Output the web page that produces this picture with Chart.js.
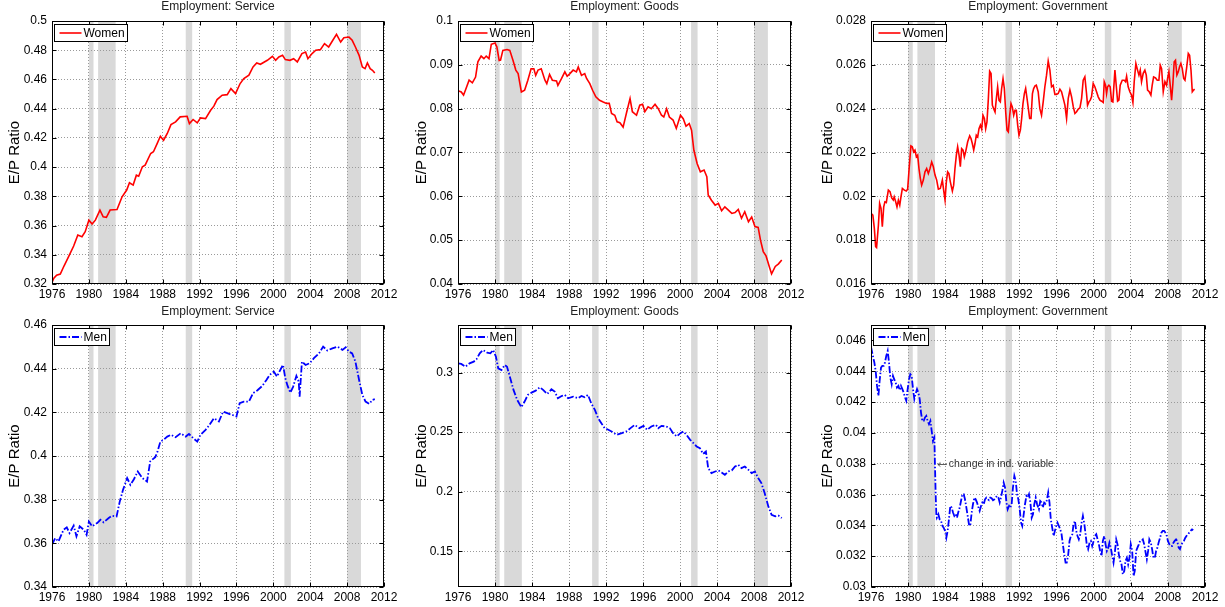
<!DOCTYPE html>
<html><head><meta charset="utf-8">
<script src="https://cdn.jsdelivr.net/npm/chart.js@4.4.1/dist/chart.umd.min.js"></script>
<style>html,body{margin:0;padding:0;background:#fff;width:1225px;height:607px;overflow:hidden;position:relative}canvas{position:absolute}</style>
</head><body>
<script>
// ---------------- DATA ----------------
const xTickYears = [1976,1980,1984,1988,1992,1996,2000,2004,2008,2012];
const recessions = [[1980.0,1980.5],[1981.0,1982.9],[1990.5,1991.2],[2001.2,2001.9],[2008.0,2009.5]];

const yTicksSvcWomen = [0.32,0.34,0.36,0.38,0.4,0.42,0.44,0.46,0.48,0.5];
const yTicksGoodsWomen = [0.04,0.05,0.06,0.07,0.08,0.09,0.1];
const yTicksGovWomen = [0.016,0.018,0.02,0.022,0.024,0.026,0.028];
const yTicksSvcMen = [0.34,0.36,0.38,0.4,0.42,0.44,0.46];
const yTicksGoodsMen = [0.15,0.2,0.25,0.3];
const yTicksGovMen = [0.03,0.032,0.034,0.036,0.038,0.04,0.042,0.044,0.046];

const svcWomenYear = [1976.0,1976.2,1976.5,1976.9,1977.3,1977.8,1978.35,1978.8,1979.25,1979.6,1980.0,1980.35,1980.7,1981.2,1981.55,1981.9,1982.3,1983.05,1983.6,1984.1,1984.4,1984.8,1985.15,1985.4,1985.8,1986.1,1986.7,1987.0,1987.4,1987.75,1988.1,1988.5,1988.9,1989.4,1989.9,1990.65,1990.9,1991.3,1991.75,1992.1,1992.65,1993.2,1993.55,1993.9,1994.45,1995.0,1995.4,1995.9,1996.4,1996.8,1997.35,1997.8,1998.2,1998.6,1999.35,1999.9,2000.25,2000.6,2001.0,2001.3,2001.8,2002.2,2002.6,2003.1,2003.5,2003.75,2004.2,2004.6,2005.1,2005.55,2006.0,2006.4,2006.85,2007.3,2007.65,2008.2,2008.55,2008.9,2009.3,2009.65,2009.95,2010.2,2010.5,2010.75,2011.0];
const svcWomenVal = [0.321,0.3239,0.326,0.3268,0.3323,0.3387,0.346,0.3535,0.3524,0.3558,0.3637,0.361,0.3637,0.3706,0.366,0.3656,0.3706,0.371,0.3797,0.3843,0.3893,0.3877,0.3945,0.3938,0.4002,0.4013,0.4093,0.4105,0.4161,0.4211,0.4184,0.423,0.4291,0.431,0.4344,0.4348,0.4298,0.4326,0.4303,0.4337,0.4332,0.4389,0.4417,0.4462,0.4492,0.4496,0.4537,0.4503,0.4572,0.4606,0.4629,0.4686,0.4713,0.4704,0.4731,0.4758,0.4731,0.4754,0.4765,0.4736,0.4731,0.4742,0.472,0.4777,0.4788,0.4742,0.4777,0.48,0.4804,0.4845,0.4822,0.4863,0.4909,0.4856,0.4886,0.489,0.4868,0.4822,0.4765,0.4686,0.4674,0.4713,0.4674,0.4663,0.4644];

const goodsWomenYear = [1976.0,1976.35,1976.6,1976.8,1977.2,1977.55,1977.9,1978.15,1978.5,1978.8,1979.05,1979.35,1979.6,1980.0,1980.2,1980.45,1980.6,1980.85,1981.3,1981.6,1981.95,1982.25,1982.5,1982.85,1983.2,1983.55,1983.9,1984.2,1984.4,1984.65,1985.0,1985.4,1985.6,1985.9,1986.2,1986.65,1986.8,1987.2,1987.55,1987.8,1988.1,1988.45,1988.8,1989.0,1989.35,1989.7,1989.9,1990.25,1990.55,1990.9,1991.3,1991.7,1992.05,1992.35,1992.6,1992.95,1993.2,1993.5,1993.85,1994.2,1994.6,1994.85,1995.3,1995.65,1995.95,1996.2,1996.55,1996.9,1997.3,1997.65,1998.0,1998.25,1998.55,1998.85,1999.25,1999.6,2000.05,2000.35,2000.65,2001.0,2001.25,2001.5,2001.85,2002.2,2002.6,2002.9,2003.05,2003.4,2003.8,2004.15,2004.5,2004.85,2005.2,2005.6,2005.95,2006.3,2006.65,2007.0,2007.4,2007.75,2008.1,2008.45,2008.7,2009.0,2009.3,2009.65,2009.9,2010.3,2010.65,2011.0];
const goodsWomenVal = [0.0841,0.0838,0.0831,0.0842,0.0865,0.0859,0.0872,0.0907,0.092,0.0914,0.092,0.0914,0.0947,0.095,0.0941,0.091,0.0911,0.0933,0.0935,0.0933,0.091,0.0888,0.088,0.0838,0.0842,0.0865,0.0891,0.0891,0.0876,0.0888,0.0891,0.0865,0.0857,0.0878,0.0865,0.0863,0.0853,0.0869,0.0884,0.0874,0.088,0.0888,0.0884,0.0895,0.0876,0.088,0.0869,0.0857,0.0842,0.0827,0.0819,0.0815,0.0812,0.0812,0.0789,0.0785,0.077,0.0768,0.0758,0.0789,0.0823,0.0793,0.0785,0.0808,0.081,0.0793,0.0804,0.08,0.081,0.08,0.0785,0.0781,0.08,0.0781,0.0774,0.0755,0.0785,0.0777,0.076,0.0766,0.0751,0.0705,0.0675,0.0656,0.066,0.0645,0.0603,0.0591,0.058,0.0584,0.0567,0.0576,0.0569,0.0561,0.0563,0.057,0.055,0.0565,0.0542,0.0553,0.0531,0.0529,0.05,0.0474,0.0464,0.044,0.0423,0.044,0.0446,0.0455];

const govWomenYear = [1976.0,1976.2,1976.36,1976.5,1976.6,1976.8,1976.93,1977.08,1977.22,1977.37,1977.5,1977.65,1977.87,1978.05,1978.23,1978.4,1978.5,1978.66,1978.8,1978.95,1979.1,1979.23,1979.38,1979.6,1979.8,1979.95,1980.1,1980.3,1980.45,1980.6,1980.74,1980.89,1981.03,1981.17,1981.32,1981.46,1981.64,1981.82,1982.0,1982.18,1982.36,1982.54,1982.72,1982.9,1983.08,1983.26,1983.47,1983.69,1983.83,1983.98,1984.12,1984.26,1984.4,1984.55,1984.77,1984.91,1985.05,1985.2,1985.34,1985.49,1985.63,1985.77,1985.92,1986.06,1986.2,1986.42,1986.64,1986.78,1986.92,1987.07,1987.21,1987.35,1987.5,1987.64,1987.79,1987.93,1988.07,1988.22,1988.36,1988.5,1988.65,1988.79,1988.94,1989.08,1989.22,1989.37,1989.51,1989.65,1989.8,1989.94,1990.08,1990.23,1990.37,1990.52,1990.66,1990.8,1990.95,1991.09,1991.23,1991.38,1991.52,1991.66,1991.81,1991.95,1992.1,1992.24,1992.38,1992.53,1992.67,1992.82,1992.96,1993.1,1993.25,1993.4,1993.53,1993.68,1993.82,1994.02,1994.2,1994.38,1994.56,1994.74,1994.92,1995.1,1995.28,1995.46,1995.64,1995.82,1996.0,1996.18,1996.36,1996.54,1996.72,1996.9,1997.08,1997.26,1997.44,1997.62,1997.8,1997.98,1998.16,1998.34,1998.52,1998.7,1998.87,1999.05,1999.23,1999.34,1999.49,1999.63,1999.77,1999.95,2000.13,2000.31,2000.49,2000.67,2000.85,2001.03,2001.14,2001.28,2001.39,2001.5,2001.64,2001.78,2001.93,2002.07,2002.29,2002.43,2002.58,2002.72,2002.86,2003.08,2003.29,2003.44,2003.55,2003.72,2003.9,2004.08,2004.23,2004.37,2004.55,2004.73,2004.88,2005.02,2005.16,2005.34,2005.52,2005.67,2005.81,2005.99,2006.17,2006.31,2006.46,2006.67,2006.85,2007.03,2007.18,2007.32,2007.5,2007.68,2007.86,2007.97,2008.11,2008.25,2008.4,2008.54,2008.68,2008.82,2008.97,2009.12,2009.26,2009.4,2009.55,2009.7,2009.84,2010.01,2010.2,2010.34,2010.49,2010.63,2010.77,2010.88];
const govWomenVal = [0.01922,0.01914,0.01854,0.0177,0.01766,0.01869,0.01968,0.01945,0.01861,0.01952,0.01975,0.01972,0.02028,0.02021,0.01993,0.01983,0.01998,0.01975,0.01952,0.01983,0.0196,0.01998,0.02036,0.02028,0.02024,0.02033,0.0212,0.0223,0.02226,0.02203,0.02211,0.0218,0.02188,0.02127,0.02081,0.02051,0.02074,0.02112,0.02127,0.02104,0.02127,0.02157,0.02135,0.02097,0.02074,0.02033,0.02036,0.02074,0.02028,0.01983,0.02066,0.02112,0.02104,0.02066,0.02024,0.02051,0.02127,0.02188,0.02226,0.02188,0.02135,0.02218,0.02211,0.0218,0.02203,0.02249,0.02276,0.02264,0.02241,0.02211,0.02241,0.02279,0.02271,0.02309,0.02325,0.02306,0.0237,0.02355,0.02309,0.0234,0.02446,0.02571,0.0256,0.02416,0.024,0.02385,0.02446,0.02499,0.02438,0.02431,0.02492,0.02537,0.02492,0.02385,0.02302,0.02294,0.0237,0.02423,0.02408,0.0237,0.02393,0.02393,0.02325,0.02279,0.02302,0.02355,0.02423,0.02469,0.02492,0.02446,0.024,0.02355,0.02355,0.02469,0.02492,0.02504,0.02507,0.02477,0.024,0.0237,0.02431,0.025,0.02553,0.02617,0.02576,0.025,0.02507,0.02465,0.02465,0.02469,0.02489,0.02477,0.02447,0.02416,0.02355,0.02447,0.02485,0.02454,0.02409,0.02378,0.02386,0.02398,0.02404,0.02447,0.0253,0.02545,0.02469,0.02416,0.02431,0.02439,0.02454,0.02515,0.025,0.02477,0.02454,0.02439,0.02434,0.02428,0.02523,0.02507,0.02469,0.025,0.02507,0.025,0.02434,0.02431,0.02576,0.02507,0.02434,0.02439,0.02507,0.0253,0.0253,0.02523,0.02548,0.025,0.02477,0.02462,0.02428,0.02523,0.02606,0.02576,0.02553,0.02576,0.02523,0.02561,0.02576,0.02553,0.02485,0.02477,0.02462,0.02507,0.02545,0.0254,0.0253,0.0253,0.02598,0.02583,0.02477,0.02523,0.02507,0.02538,0.02568,0.02507,0.02439,0.02515,0.02614,0.02621,0.02553,0.02568,0.02591,0.02606,0.02583,0.02538,0.0253,0.02583,0.02652,0.02644,0.02576,0.02477,0.02485,0.02489];

const svcMenYear = [1976.0,1976.35,1976.7,1977.25,1977.6,1977.9,1978.35,1978.65,1979.0,1979.45,1979.75,1980.0,1980.35,1980.9,1981.25,1981.6,1982.15,1982.5,1983.0,1983.35,1983.7,1984.15,1984.5,1984.85,1985.3,1985.8,1986.3,1986.65,1987.2,1987.45,1987.75,1988.1,1988.5,1988.9,1989.4,1989.95,1990.5,1990.85,1991.3,1991.75,1992.1,1992.65,1993.0,1993.55,1994.1,1994.55,1995.0,1995.55,1996.0,1996.35,1996.8,1997.35,1997.8,1998.25,1998.8,1999.25,1999.6,2000.05,2000.4,2000.85,2001.05,2001.3,2001.55,2001.85,2002.15,2002.5,2002.75,2002.85,2003.1,2003.5,2003.95,2004.4,2004.95,2005.4,2005.85,2006.4,2006.95,2007.5,2007.85,2008.2,2008.55,2008.9,2009.3,2009.65,2010.0,2010.4,2010.75,2011.0];
const svcMenVal = [0.3594,0.3624,0.3609,0.3662,0.3673,0.3647,0.3681,0.3632,0.3678,0.3662,0.3639,0.37,0.3678,0.3693,0.3708,0.3696,0.3716,0.3726,0.3723,0.3792,0.3845,0.3899,0.3868,0.3891,0.3929,0.3899,0.3883,0.3975,0.3995,0.4021,0.4066,0.4074,0.4089,0.4097,0.4086,0.4104,0.4089,0.4101,0.4082,0.4066,0.4097,0.412,0.4138,0.4173,0.4158,0.4203,0.4196,0.4188,0.4181,0.4242,0.4249,0.4249,0.4288,0.43,0.4321,0.4348,0.4371,0.4387,0.4364,0.4402,0.4417,0.4356,0.4321,0.429,0.4318,0.4367,0.4341,0.4272,0.4432,0.4417,0.4425,0.4448,0.447,0.4501,0.4483,0.4493,0.4501,0.4486,0.4498,0.4478,0.447,0.4432,0.4348,0.428,0.4249,0.4239,0.4257,0.426];

const goodsMenYear = [1976.0,1976.35,1976.8,1977.25,1977.7,1978.0,1978.35,1978.7,1979.15,1979.5,1979.8,1980.1,1980.35,1980.7,1981.05,1981.3,1981.65,1982.0,1982.4,1982.85,1983.2,1983.55,1983.95,1984.4,1984.85,1985.2,1985.65,1986.1,1986.45,1986.8,1987.2,1987.55,1987.9,1988.45,1989.0,1989.35,1989.7,1990.05,1990.4,1990.8,1991.15,1991.5,1991.85,1992.25,1992.6,1993.15,1993.7,1994.2,1994.65,1995.1,1995.6,1996.05,1996.45,1996.9,1997.4,1997.65,1998.0,1998.5,1998.9,1999.25,1999.65,2000.05,2000.35,2000.7,2001.1,2001.45,2001.8,2002.15,2002.5,2002.8,2003.05,2003.4,2003.8,2004.15,2004.5,2004.85,2005.2,2005.6,2005.95,2006.3,2006.65,2007.0,2007.4,2007.75,2008.1,2008.45,2008.8,2009.15,2009.55,2009.9,2010.3,2010.65,2011.0];
const goodsMenVal = [0.3078,0.3073,0.305,0.3078,0.3092,0.3112,0.3162,0.319,0.3168,0.3162,0.319,0.3134,0.3036,0.3022,0.3064,0.305,0.2953,0.2855,0.2771,0.271,0.2757,0.2813,0.2832,0.2849,0.2877,0.2855,0.2821,0.286,0.2841,0.2785,0.2804,0.2813,0.2785,0.2799,0.2785,0.2804,0.2793,0.2813,0.2743,0.2687,0.2617,0.2575,0.2534,0.252,0.2506,0.2478,0.2492,0.2506,0.2534,0.2561,0.2534,0.2553,0.252,0.2548,0.2561,0.2534,0.2553,0.2548,0.2534,0.2492,0.2464,0.2492,0.2506,0.2478,0.2436,0.2408,0.238,0.2366,0.2318,0.2338,0.2198,0.2156,0.217,0.2179,0.2162,0.2142,0.217,0.2179,0.2212,0.2226,0.2198,0.2212,0.2184,0.2156,0.217,0.2115,0.2073,0.1989,0.1877,0.1807,0.1793,0.1799,0.1779];

const govMenYear = [1976.0,1976.2,1976.36,1976.5,1976.65,1976.8,1976.93,1977.08,1977.22,1977.37,1977.5,1977.65,1977.8,1977.94,1978.08,1978.23,1978.37,1978.5,1978.66,1978.8,1978.95,1979.1,1979.23,1979.38,1979.52,1979.67,1979.8,1979.95,1980.1,1980.24,1980.38,1980.53,1980.67,1980.8,1980.96,1981.1,1981.25,1981.39,1981.53,1981.68,1981.82,1981.96,1982.1,1982.25,1982.4,1982.54,1982.68,1982.83,1982.9,1982.97,1983.04,1983.1,1983.26,1983.4,1983.55,1983.7,1983.83,1983.98,1984.12,1984.26,1984.4,1984.55,1984.7,1984.84,1984.98,1985.12,1985.27,1985.4,1985.56,1985.7,1985.85,1985.99,1986.13,1986.28,1986.42,1986.56,1986.7,1986.85,1986.99,1987.14,1987.28,1987.43,1987.57,1987.71,1987.86,1988.0,1988.15,1988.29,1988.43,1988.58,1988.72,1988.86,1989.0,1989.15,1989.3,1989.44,1989.58,1989.73,1989.87,1990.0,1990.15,1990.3,1990.45,1990.6,1990.73,1990.88,1991.0,1991.16,1991.3,1991.45,1991.6,1991.74,1991.88,1992.03,1992.17,1992.3,1992.46,1992.6,1992.75,1992.9,1993.03,1993.18,1993.32,1993.46,1993.6,1993.75,1993.9,1994.1,1994.24,1994.38,1994.52,1994.67,1994.8,1994.95,1995.1,1995.24,1995.38,1995.53,1995.68,1995.82,1995.96,1996.1,1996.25,1996.4,1996.54,1996.68,1996.83,1996.97,1997.1,1997.26,1997.4,1997.54,1997.7,1997.83,1997.98,1998.12,1998.26,1998.4,1998.55,1998.7,1998.84,1999.0,1999.13,1999.27,1999.4,1999.56,1999.7,1999.84,2000.0,2000.13,2000.28,2000.42,2000.56,2000.7,2000.85,2000.99,2001.14,2001.28,2001.42,2001.57,2001.7,2001.85,2002.0,2002.14,2002.28,2002.43,2002.57,2002.71,2002.86,2003.0,2003.14,2003.3,2003.43,2003.58,2003.72,2003.86,2004.0,2004.15,2004.3,2004.43,2004.58,2004.72,2004.87,2005.0,2005.16,2005.3,2005.44,2005.6,2005.73,2005.87,2006.0,2006.16,2006.3,2006.44,2006.6,2006.73,2006.87,2007.0,2007.16,2007.3,2007.44,2007.6,2007.73,2007.88,2008.0,2008.16,2008.3,2008.45,2008.6,2008.73,2008.88,2009.0,2009.16,2009.3,2009.45,2009.6,2009.73,2009.88,2010.0,2010.16,2010.3,2010.44,2010.6,2010.73];
const govMenVal = [0.04558,0.045,0.04457,0.04403,0.04305,0.0424,0.04338,0.04424,0.04435,0.04435,0.04457,0.045,0.04532,0.04457,0.04359,0.04316,0.0437,0.04348,0.04327,0.04294,0.04305,0.04277,0.04305,0.04284,0.04262,0.04229,0.04208,0.04284,0.04348,0.04381,0.0437,0.04284,0.04219,0.04251,0.04284,0.04262,0.04219,0.04132,0.04078,0.04078,0.041,0.0411,0.04078,0.04056,0.04078,0.04013,0.03948,0.0397,0.03775,0.03602,0.03472,0.0345,0.03472,0.03439,0.03429,0.03396,0.03385,0.03364,0.0332,0.03364,0.03439,0.03526,0.03515,0.03483,0.03461,0.03472,0.0345,0.03483,0.03515,0.03558,0.03602,0.03602,0.03569,0.03515,0.03461,0.03407,0.03396,0.03483,0.03537,0.0358,0.03569,0.03548,0.03519,0.03494,0.03526,0.03548,0.03537,0.03569,0.0358,0.03569,0.03563,0.0358,0.03576,0.03563,0.03569,0.0358,0.03591,0.0358,0.03548,0.0358,0.03623,0.03677,0.03645,0.03548,0.03504,0.03526,0.03515,0.03537,0.03645,0.03721,0.03688,0.03602,0.03569,0.03504,0.03418,0.03396,0.03472,0.03537,0.03591,0.0358,0.03602,0.03548,0.0345,0.03472,0.03537,0.0358,0.03537,0.03504,0.03558,0.03548,0.03515,0.03548,0.03541,0.03563,0.03613,0.03548,0.03439,0.03385,0.03331,0.03364,0.03396,0.03418,0.03396,0.03374,0.03342,0.03277,0.03212,0.03158,0.03158,0.03212,0.03299,0.03331,0.03342,0.03407,0.03429,0.03364,0.03331,0.03309,0.03342,0.03418,0.03461,0.03407,0.03342,0.03266,0.03245,0.03288,0.03299,0.03266,0.03299,0.03331,0.03342,0.03309,0.03277,0.03234,0.03201,0.03299,0.03331,0.03277,0.03234,0.03255,0.03288,0.03255,0.03201,0.03158,0.03223,0.03309,0.03277,0.03212,0.03169,0.03147,0.03082,0.03104,0.03169,0.0319,0.03147,0.0319,0.03277,0.03234,0.03071,0.03104,0.03234,0.03255,0.03277,0.03299,0.03299,0.03309,0.03277,0.03223,0.0318,0.03234,0.03309,0.03288,0.03245,0.0319,0.0319,0.03234,0.03255,0.03288,0.0332,0.03353,0.03364,0.03364,0.03353,0.03331,0.03299,0.03277,0.03266,0.03266,0.03288,0.03299,0.03309,0.03299,0.03255,0.03245,0.03277,0.03288,0.03299,0.0332,0.03331,0.03342,0.03353,0.03364,0.03374,0.03368];

// ---------------- DRAWING ----------------
const FONT = '"Liberation Sans", Arial, Helvetica, sans-serif';
Chart.defaults.font.family = FONT;
Chart.defaults.color = '#000';

const RED = '#ff0000', BLUE = '#0000ff';
const DASHDOT = [7, 2, 1.5, 2];

const panels = [
  {title:'Employment: Service', label:'Women', xs:svcWomenYear, ys:svcWomenVal, color:RED, dash:[], lw:1.6, ymin:0.32, ymax:0.5, yticks:yTicksSvcWomen,
   x0:0, y0:0, w:405, h:300, pl:52, pr:384, pt:21, pb:284, ylx:14.5, titleY:7, legW:73},
  {title:'Employment: Goods', label:'Women', xs:goodsWomenYear, ys:goodsWomenVal, color:RED, dash:[], lw:1.6, ymin:0.04, ymax:0.1, yticks:yTicksGoodsWomen,
   x0:405, y0:0, w:405, h:300, pl:458, pr:791, pt:21, pb:284, ylx:421.5, titleY:7, legW:73},
  {title:'Employment: Government', label:'Women', xs:govWomenYear, ys:govWomenVal, color:RED, dash:[], lw:1.6, ymin:0.016, ymax:0.028, yticks:yTicksGovWomen,
   x0:810, y0:0, w:415, h:300, pl:871, pr:1205, pt:21, pb:284, ylx:828, titleY:7, legW:73},
  {title:'Employment: Service', label:'Men', xs:svcMenYear, ys:svcMenVal, color:BLUE, dash:DASHDOT, lw:1.8, ymin:0.34, ymax:0.46, yticks:yTicksSvcMen,
   x0:0, y0:300, w:405, h:307, pl:52, pr:384, pt:325, pb:587, ylx:14.5, titleY:312, legW:55},
  {title:'Employment: Goods', label:'Men', xs:goodsMenYear, ys:goodsMenVal, color:BLUE, dash:DASHDOT, lw:1.8, ymin:0.12, ymax:0.34, yticks:yTicksGoodsMen,
   x0:405, y0:300, w:405, h:307, pl:458, pr:791, pt:325, pb:587, ylx:421.5, titleY:312, legW:55},
  {title:'Employment: Government', label:'Men', xs:govMenYear, ys:govMenVal, color:BLUE, dash:DASHDOT, lw:1.8, ymin:0.03, ymax:0.047, yticks:yTicksGovMen,
   x0:810, y0:300, w:415, h:307, pl:871, pr:1205, pt:325, pb:587, ylx:828, titleY:312, legW:55,
   note:{x:1983.1, y:0.038, text:'change in ind. variable'}}
];

function fmt(v){ return String(parseFloat(Number(v).toFixed(4))); }

function decor(p){
  return {
    id:'decor',
    beforeDraw(chart){
      const {ctx, chartArea:a, scales:{x}} = chart;
      ctx.save();
      ctx.fillStyle = '#d9d9d9';
      recessions.forEach(([s,e])=>{
        const x1 = x.getPixelForValue(s), x2 = x.getPixelForValue(e);
        ctx.fillRect(x1, a.top, x2-x1, a.bottom-a.top);
      });
      ctx.restore();
    },
    afterDraw(chart){
      const {ctx, chartArea:a, scales:{x,y}} = chart;
      ctx.save();
      ctx.strokeStyle = '#000'; ctx.lineWidth = 1; ctx.setLineDash([]);
      const L = Math.round(a.left)+0.5, T = Math.round(a.top)+0.5, R = Math.round(a.right)-0.5, B = Math.round(a.bottom)-0.5;
      ctx.strokeRect(L, T, R-L, B-T);
      ctx.beginPath();
      p.yticks.forEach(v=>{
        const yy = Math.round(y.getPixelForValue(v))+0.5;
        ctx.moveTo(L, yy); ctx.lineTo(L+4, yy);
        ctx.moveTo(R, yy); ctx.lineTo(R-4, yy);
      });
      xTickYears.forEach(v=>{
        const xx = Math.round(x.getPixelForValue(v))+0.5;
        ctx.moveTo(xx, B); ctx.lineTo(xx, B-4);
        ctx.moveTo(xx, T); ctx.lineTo(xx, T+4);
      });
      ctx.stroke();
      ctx.fillStyle = '#222'; ctx.font = '12px '+FONT; ctx.textAlign = 'center'; ctx.textBaseline = 'middle';
      ctx.fillText(p.title, (a.left+a.right)/2, p.titleY - p.y0);
      ctx.save();
      ctx.translate(p.ylx - p.x0, (a.top+a.bottom)/2);
      ctx.rotate(-Math.PI/2);
      ctx.fillStyle = '#000'; ctx.font = '15px '+FONT; ctx.textAlign='center'; ctx.textBaseline='middle';
      ctx.fillText('E/P Ratio', 0, 0);
      ctx.restore();
      const lx = Math.round(a.left)+2.5, ly = Math.round(a.top)+3.5, lh = 17;
      ctx.fillStyle = '#fff'; ctx.fillRect(lx, ly, p.legW, lh);
      ctx.strokeStyle = '#000'; ctx.lineWidth = 1; ctx.strokeRect(lx, ly, p.legW, lh);
      ctx.strokeStyle = p.color; ctx.lineWidth = p.lw; ctx.setLineDash(p.dash);
      ctx.beginPath(); ctx.moveTo(lx+5, ly+lh/2); ctx.lineTo(lx+27, ly+lh/2); ctx.stroke();
      ctx.setLineDash([]);
      ctx.fillStyle = '#000'; ctx.font = '12px '+FONT; ctx.textAlign='left'; ctx.textBaseline='middle';
      ctx.fillText(p.label, lx+29, ly+lh/2+0.5);
      if (p.note){
        const ax = x.getPixelForValue(p.note.x), ay = Math.round(y.getPixelForValue(p.note.y))+0.5;
        ctx.strokeStyle = '#333'; ctx.lineWidth = 0.8;
        ctx.beginPath();
        ctx.moveTo(ax+1, ay); ctx.lineTo(ax+10, ay);
        ctx.moveTo(ax+1, ay); ctx.lineTo(ax+3.5, ay-2);
        ctx.moveTo(ax+1, ay); ctx.lineTo(ax+3.5, ay+2);
        ctx.stroke();
        ctx.fillStyle = '#333'; ctx.font = '10.5px '+FONT; ctx.textAlign='left'; ctx.textBaseline='middle';
        ctx.fillText(p.note.text, ax+12, ay);
      }
      ctx.restore();
    }
  };
}

panels.forEach((p)=>{
  const c = document.createElement('canvas');
  c.width = p.w; c.height = p.h;
  c.style.left = p.x0+'px'; c.style.top = p.y0+'px';
  c.style.width = p.w+'px'; c.style.height = p.h+'px';
  document.body.appendChild(c);
  const pts = p.xs.map((xv,i)=>({x:xv, y:p.ys[i]}));
  new Chart(c, {
    type:'line',
    data:{datasets:[{label:p.label, data:pts, borderColor:p.color, borderWidth:p.lw, borderDash:p.dash,
      pointRadius:0, tension:0, fill:false}]},
    options:{
      responsive:false, animation:false, devicePixelRatio:1,
      layout:{padding:{left:0, top:p.pt-p.y0, right:(p.x0+p.w)-p.pr, bottom:0}},
      plugins:{legend:{display:false}, tooltip:{enabled:false}, title:{display:false}},
      scales:{
        x:{type:'linear', min:1976, max:2012,
          afterBuildTicks:s=>{ s.ticks = xTickYears.map(v=>({value:v})); },
          afterFit:s=>{ s.height = (p.y0+p.h) - p.pb; },
          grid:{color:'#9a9a9a', lineWidth:1, drawTicks:false},
          border:{display:false, dash:[1,2]},
          ticks:{padding:3, color:'#000', font:{size:12}, maxRotation:0, autoSkip:false, callback:v=>String(v)}},
        y:{type:'linear', min:p.ymin, max:p.ymax,
          afterBuildTicks:s=>{ s.ticks = p.yticks.map(v=>({value:v})); },
          afterFit:s=>{ s.width = p.pl - p.x0; },
          grid:{color:'#9a9a9a', lineWidth:1, drawTicks:false},
          border:{display:false, dash:[1,2]},
          ticks:{padding:5, color:'#000', font:{size:12}, autoSkip:false, callback:v=>fmt(v)}}
      }
    },
    plugins:[decor(p)]
  });
});
</script>
</body></html>
